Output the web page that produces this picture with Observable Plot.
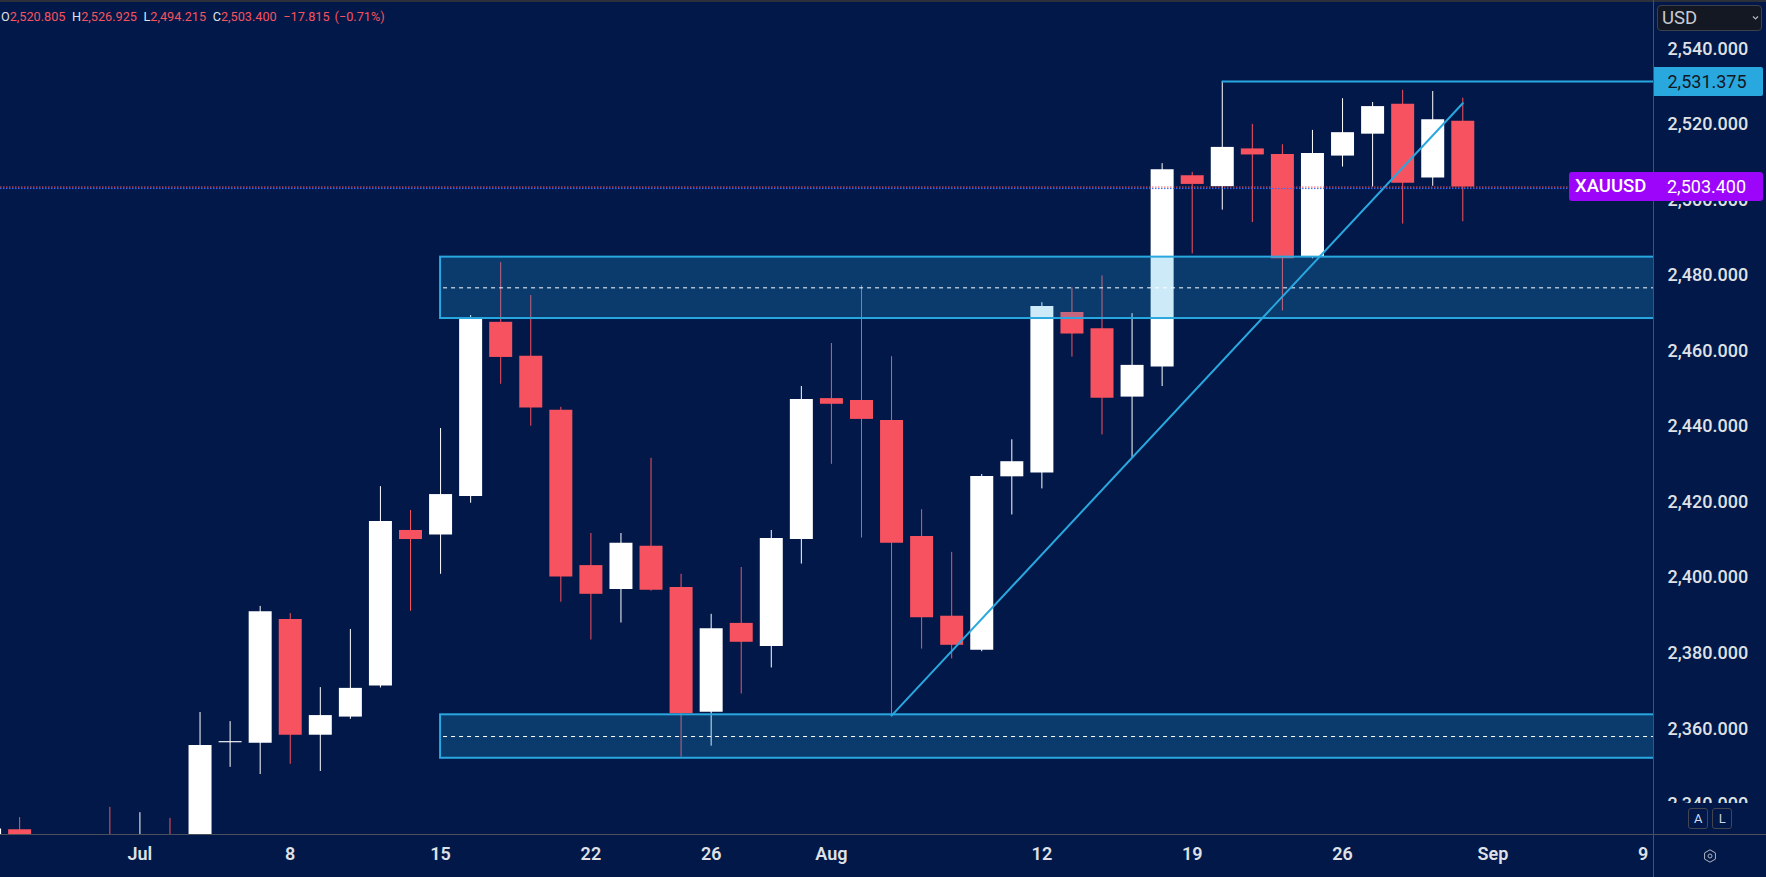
<!DOCTYPE html>
<html>
<head>
<meta charset="utf-8">
<script src="https://cdn.jsdelivr.net/npm/d3@7"></script>
<script src="https://cdn.jsdelivr.net/npm/@observablehq/plot@0.6"></script>
<style>
  html, body { margin:0; padding:0; background:#021848; overflow:hidden; }
  #wrap { position:relative; width:1766px; height:877px; font-family: Roboto, sans-serif; }
  #wrap svg { position:absolute; left:0; top:0; }
  .ov { position:absolute; box-sizing:border-box; }
  #hdr { left:1px; top:9px; font-size:12.7px; line-height:16px; white-space:pre; color:#f7525f; display:flex; }
  #hdr .k { color:#dfe1e6; }
  #hdr .g { margin-left:6.6px; }
  #hdr .g0 { margin-left:0; }
  .lbl { position:absolute; box-sizing:border-box; height:29px; line-height:29px; font-size:18px; white-space:nowrap; }
  .btn { position:absolute; box-sizing:border-box; border:1px solid #434651; border-radius:3px; color:#d1d4dc; text-align:center; }
</style>
</head>
<body>
<div id="wrap"></div>
<script>
// ---------- data ----------
const dates = ["2024-06-24","2024-06-25","2024-06-26","2024-06-27","2024-06-28",
  "2024-07-01","2024-07-02","2024-07-03","2024-07-04","2024-07-05",
  "2024-07-08","2024-07-09","2024-07-10","2024-07-11","2024-07-12",
  "2024-07-15","2024-07-16","2024-07-17","2024-07-18","2024-07-19",
  "2024-07-22","2024-07-23","2024-07-24","2024-07-25","2024-07-26",
  "2024-07-29","2024-07-30","2024-07-31","2024-08-01","2024-08-02",
  "2024-08-05","2024-08-06","2024-08-07","2024-08-08","2024-08-09",
  "2024-08-12","2024-08-13","2024-08-14","2024-08-15","2024-08-16",
  "2024-08-19","2024-08-20","2024-08-21","2024-08-22","2024-08-23",
  "2024-08-26","2024-08-27","2024-08-28","2024-08-29","2024-08-30"];
const opens  = [2321.0,2333.3,2319.0,2298.0,2327.5, 2326.5,2330.0,2329.5,2356.3,2356.2,
  2388.9,2358.3,2363.1,2371.3,2412.5, 2411.3,2421.5,2467.6,2458.6,2444.3,
  2403.2,2396.9,2408.3,2397.4,2364.4, 2387.9,2381.8,2410.1,2447.4,2446.9,
  2441.6,2410.9,2389.8,2380.8,2426.7, 2427.7,2470.2,2465.9,2447.8,2455.8,
  2506.4,2503.5,2513.5,2512.0,2485.0, 2511.6,2517.4,2525.3,2505.8,2520.805];
const highs  = [2335.0,2336.5,2325.0,2330.0,2339.2, 2337.8,2336.3,2364.3,2361.9,2392.4,
  2390.5,2370.9,2386.3,2424.1,2417.8, 2439.5,2469.4,2483.4,2474.7,2445.1,
  2411.7,2411.7,2431.6,2400.9,2390.3, 2402.7,2412.5,2450.6,2462.0,2477.3,
  2458.5,2418.0,2406.7,2427.3,2436.5, 2472.8,2476.7,2479.9,2469.9,2509.6,
  2507.3,2531.375,2520.0,2514.6,2518.4, 2526.8,2525.8,2529.0,2528.7,2526.925];
const lows   = [2319.0,2310.0,2293.0,2295.0,2318.0, 2318.0,2316.5,2326.0,2349.8,2347.9,
  2350.6,2348.7,2362.5,2370.8,2391.1, 2400.9,2419.7,2451.2,2440.1,2393.5,
  2383.5,2388.0,2396.4,2352.5,2355.4, 2369.2,2376.1,2403.6,2430.0,2410.5,
  2363.5,2381.1,2378.5,2380.4,2416.6, 2423.5,2458.4,2437.8,2431.7,2450.6,
  2485.7,2497.3,2494.0,2470.6,2484.4, 2508.7,2503.4,2493.6,2503.6,2494.215];
const closes = [2333.5,2319.0,2298.0,2327.5,2326.5, 2330.0,2329.5,2355.6,2356.6,2391.0,
  2358.3,2363.5,2370.7,2414.9,2410.1, 2422.0,2468.6,2458.3,2444.9,2400.2,
  2395.6,2409.1,2396.7,2364.0,2386.5, 2382.9,2410.4,2447.2,2445.9,2441.9,
  2409.1,2389.4,2382.1,2426.8,2430.7, 2471.8,2464.5,2447.5,2456.2,2508.0,
  2504.1,2513.9,2511.9,2484.4,2512.3, 2517.8,2524.7,2504.4,2521.215,2503.4];

const tickDates  = ["2024-07-01","2024-07-08","2024-07-15","2024-07-22","2024-07-26","2024-08-01",
                    "2024-08-12","2024-08-19","2024-08-26","2024-09-02","2024-09-09"];
const tickLabels = ["Jul","8","15","22","26","Aug","12","19","26","Sep","9"];
const priceTicks = [2340,2360,2380,2400,2420,2440,2460,2480,2500,2520,2540];

const zoneStart = ["2024-07-15","2024-07-15"];
const zoneEnd   = ["2024-09-30","2024-09-30"];
const zoneLow   = [2468.6, 2352.2];
const zoneHigh  = [2484.85, 2363.7];

const resistanceDates = ["2024-08-20","2024-09-30"];
const resistancePrice = 2531.375;
const trendDates  = ["2024-08-05","2024-08-30"];
const trendPrices = [2363.5, 2525.6];
const bidPrice = 2503.0;
const symbol = "XAUUSD";

// view window (trading-day index / price)
const xView = [0.363, 55.343];
const yView = [2332.02, 2552.785];

// ---------- helpers ----------
const UP = "#ffffff", DOWN = "#f7525f", CYAN = "#29a8e0", PURPLE = "#9d05fb", BG = "#021848";
const day0 = new Date(dates[0] + "T00:00:00Z");
function tIndex(s) {
  const d = new Date(s + "T00:00:00Z");
  let n = 0;
  for (let t = new Date(day0); t < d; t.setUTCDate(t.getUTCDate() + 1)) {
    const w = t.getUTCDay();
    if (w !== 0 && w !== 6) n++;
  }
  return n;
}
const candles = dates.map((d, k) => ({
  i: tIndex(d), open: opens[k], high: highs[k], low: lows[k], close: closes[k],
  color: closes[k] >= opens[k] ? UP : DOWN
}));
const zones = zoneStart.map((s, k) => ({
  x1: tIndex(s), x2: tIndex(zoneEnd[k]), low: zoneLow[k], high: zoneHigh[k], mid: (zoneLow[k] + zoneHigh[k]) / 2
}));
const resistance = [{x1: tIndex(resistanceDates[0]), x2: tIndex(resistanceDates[1]), price: resistancePrice}];
const trend = trendDates.map((d, k) => ({i: tIndex(d), price: trendPrices[k]}));
const tickIdx = tickDates.map(tIndex);
const tickMap = new Map(tickIdx.map((v, k) => [v, tickLabels[k]]));
const fmt = d3.format(",.3f");
const last = candles[candles.length - 1];
const prev = candles[candles.length - 2];
const lastClose = last.close;

const chart = Plot.plot({
  width: 1766, height: 877,
  marginLeft: 0, marginRight: 113, marginTop: 0, marginBottom: 43,
  x: {type: "linear", domain: xView},
  y: {domain: yView},
  color: {type: "identity"},
  style: {background: BG, color: "#dfe1e6", fontFamily: "Roboto, sans-serif", fontSize: "18px", overflow: "visible"},
  marks: [
    Plot.ruleX(candles, {x: "i", y1: "low", y2: "high", stroke: "color", strokeWidth: 1, clip: true}),
    Plot.ruleX(candles, {x: "i", y1: "open", y2: "close", stroke: "color", strokeWidth: 23, clip: true}),
    Plot.rect(zones, {x1: "x1", x2: "x2", y1: "low", y2: "high", fill: CYAN, fillOpacity: 0.24, stroke: CYAN, strokeWidth: 2, clip: true}),
    Plot.ruleY(zones, {y: "mid", x1: "x1", x2: "x2", stroke: "#ffffff", strokeWidth: 1, strokeDasharray: "4,4", dx: 3, clip: true}),
    Plot.ruleY(resistance, {y: "price", x1: "x1", x2: "x2", stroke: CYAN, strokeWidth: 2, clip: true}),
    Plot.line(trend, {x: "i", y: "price", stroke: CYAN, strokeWidth: 2}),
    Plot.ruleY([bidPrice], {stroke: "#2f6bff", strokeWidth: 1, strokeDasharray: "1.5,1.5"}),
    Plot.ruleY([lastClose], {stroke: DOWN, strokeWidth: 1, strokeDasharray: "1.5,1.5"}),
    Plot.axisY({anchor: "right", ticks: priceTicks, tickSize: 0, tickPadding: 14, tickFormat: fmt, fontSize: 18, fontWeight: 500, label: null}),
    Plot.axisX({anchor: "bottom", ticks: tickIdx, tickSize: 0, tickPadding: 13, tickFormat: d => tickMap.get(d), fontSize: 18, fontWeight: 600, label: null})
  ]
});

const wrap = document.getElementById("wrap");
wrap.appendChild(chart);
const ys = chart.scale("y");

function div(css, html) {
  const e = document.createElement("div");
  e.className = "ov";
  e.style.cssText = css;
  if (html != null) e.innerHTML = html;
  wrap.appendChild(e);
  return e;
}

// chrome: dividers, top line
div("left:0;top:0;width:1766px;height:2px;background:#2c303b;");
div("left:1653px;top:0;width:1px;height:877px;background:#4c505b;");
div("left:0;top:834px;width:1766px;height:1px;background:#4c505b;");
// cover for clipped lowest price label
div(`left:1654px;top:803.3px;width:112px;height:30.7px;background:${BG};`);

// header legend
const pct = d3.format(".2%");
const chg = last.close - prev.close;
div("", "").id = "hdr";
document.getElementById("hdr").innerHTML =
  `<span class="k">O</span><span>${fmt(last.open)}</span>` +
  `<span class="k g">H</span><span>${fmt(last.high)}</span>` +
  `<span class="k g">L</span><span>${fmt(last.low)}</span>` +
  `<span class="k g">C</span><span>${fmt(last.close)}</span>` +
  `<span class="g">${d3.format(",.3f")(chg)}</span>` +
  `<span class="g" style="margin-left:5px">(${pct(chg / prev.close)})</span>`;

// USD selector
div("left:1657px;top:5px;width:105.3px;height:25.7px;border:1px solid #3d414c;border-radius:4px;background:#141823;",
  `<span style="position:absolute;left:4px;top:0;line-height:24px;font-size:18.5px;color:#c8cbd3;">USD</span>` +
  `<svg style="position:absolute;left:94px;top:9px" width="7" height="6"><polyline points="1,1.5 3.5,4 6,1.5" fill="none" stroke="#b2b5be" stroke-width="1.2"/></svg>`);

// resistance price label
const yRes = ys.apply(resistancePrice);
const r = div(`left:1654px;top:${yRes - 14.3}px;width:108.7px;background:${CYAN};border-radius:0 2px 2px 0;`);
r.className = "ov lbl";
r.innerHTML = `<span style="position:absolute;left:13.5px;color:#131722;">${fmt(resistancePrice)}</span>`;

// last price label
const yLast = ys.apply(lastClose);
const p = div(`left:1569px;top:${yLast - 14.3}px;width:193.7px;background:${PURPLE};border-radius:3px;`);
p.className = "ov lbl";
p.innerHTML = `<span style="position:absolute;left:6px;color:#fff;font-size:18.5px;font-weight:500;">${symbol}</span>` +
  `<span style="position:absolute;left:98px;color:#fff;">${fmt(lastClose)}</span>`;

// A / L buttons
const a = div("left:1688.3px;top:808.3px;width:19.7px;height:21px;line-height:19px;font-size:13px;color:#c8d8f0;");
a.className = "btn"; a.textContent = "A";
const l = div("left:1712.3px;top:808.3px;width:19.7px;height:21px;line-height:19px;font-size:13px;");
l.className = "btn"; l.textContent = "L";
// settings icon
div("left:1702px;top:848px;width:16px;height:16px;",
  `<svg width="16" height="16"><polygon points="8,1.8 13.4,4.9 13.4,11.1 8,14.2 2.6,11.1 2.6,4.9" fill="none" stroke="#b2b5be" stroke-width="1"/><circle cx="8" cy="8" r="2" fill="none" stroke="#b2b5be" stroke-width="1"/></svg>`);
</script>
</body>
</html>
